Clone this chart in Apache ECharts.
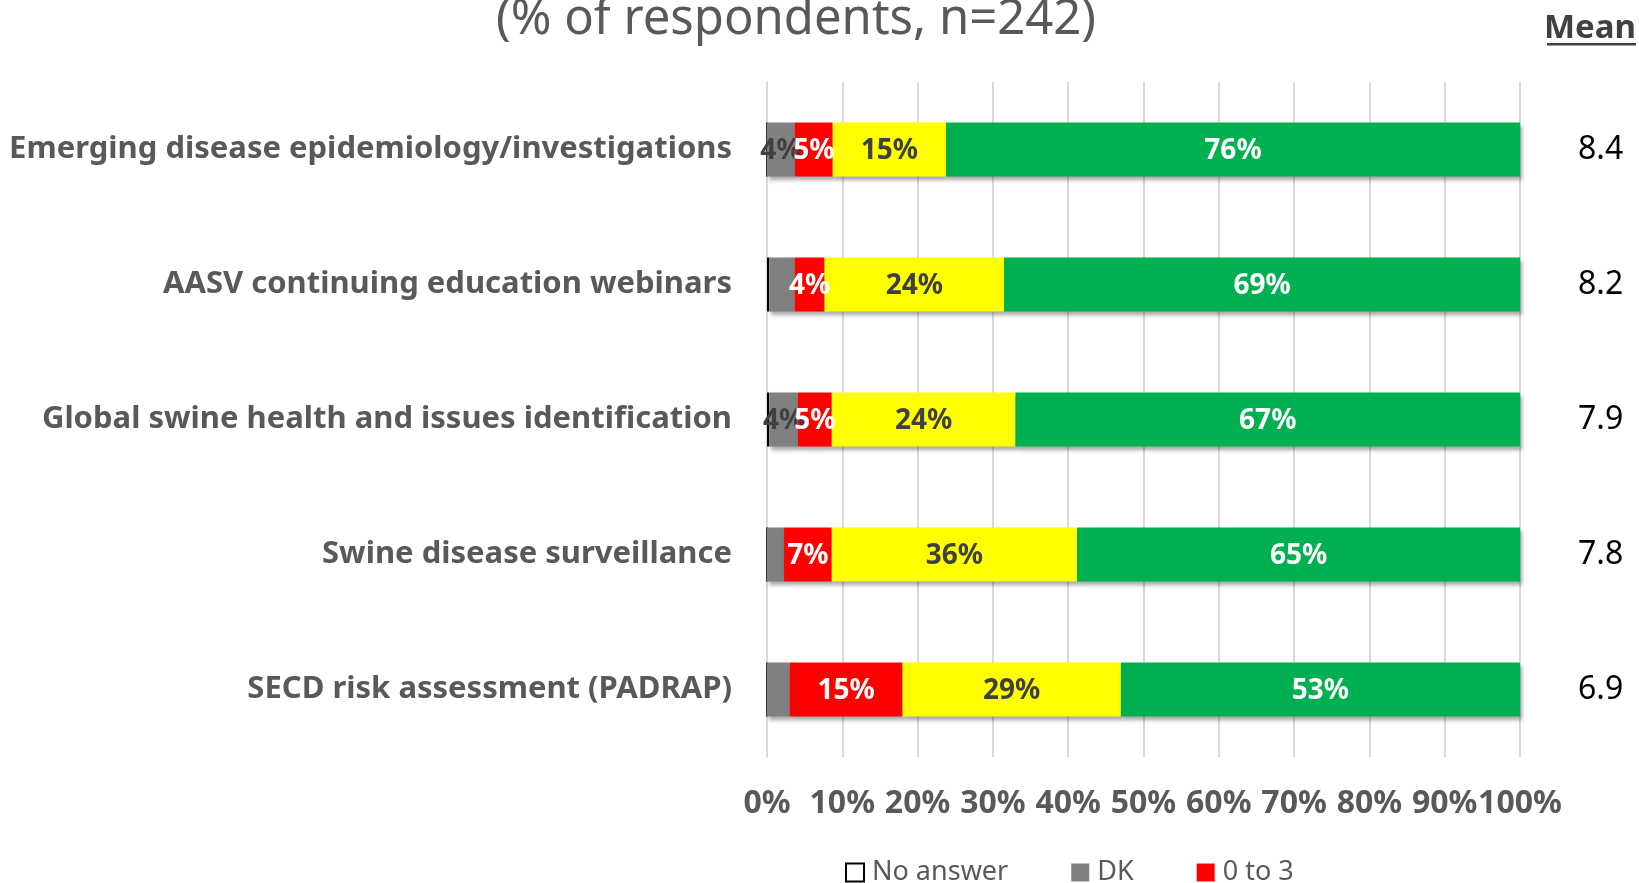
<!DOCTYPE html>
<html>
<head>
<meta charset="utf-8">
<script src="https://cdn.jsdelivr.net/npm/echarts@6/dist/echarts.min.js"></script>
<style>
  html, body { margin: 0; padding: 0; background: #fff; }
  #chart { width: 1639px; height: 883px; }
</style>
</head>
<body>
<div id="chart"></div>
<script>
  // categories, top to bottom
  var categories = [
    'Emerging disease epidemiology/investigations',
    'AASV continuing education webinars',
    'Global swine health and issues identification',
    'Swine disease surveillance',
    'SECD risk assessment (PADRAP)'
  ];
  // raw answer shares (% of respondents), bars are drawn as 100% stacked
  var noAnswer = [0, 0.3, 0.3, 0, 0];
  var dk = [3.7, 3.4, 3.8, 2.5, 3];
  var low = [5, 4, 4.5, 7, 15];
  var mid = [15, 24, 24.4, 36, 29];
  var high = [76, 69, 67, 65, 53];
  var means = ['8.4', '8.2', '7.9', '7.8', '6.9'];
  var xTicks = [0, 10, 20, 30, 40, 50, 60, 70, 80, 90, 100];

  var font = '"Noto Sans", "Open Sans", sans-serif';

  // 100% stacked: turn raw values into shares of the row total
  var totals = categories.map(function (c, i) {
    return noAnswer[i] + dk[i] + low[i] + mid[i] + high[i];
  });
  function toShare(arr) {
    return arr.map(function (v, i) {
      return { value: v / totals[i] * 100, raw: v };
    });
  }

  function seg(name, arr, color, labelColor, minShow) {
    return {
      name: name,
      type: 'bar',
      stack: 'all',
      barWidth: 54,
      data: toShare(arr),
      itemStyle: {
        color: color,
        shadowColor: 'rgba(0,0,0,0.35)',
        shadowBlur: 4,
        shadowOffsetX: 2,
        shadowOffsetY: 3
      },
      label: {
        show: labelColor != null,
        position: 'inside',
        offset: [0, 2],
        color: labelColor,
        fontFamily: font,
        fontWeight: 'bold',
        fontSize: 28,
        formatter: function (p) {
          return p.data.raw >= minShow ? Math.round(p.data.raw) + '%' : '';
        }
      }
    };
  }

  var myChart = echarts.init(document.getElementById('chart'));

  var naSeries = seg('No answer', noAnswer, '#ffffff', null, 0);
  naSeries.itemStyle.borderColor = '#000000';
  naSeries.itemStyle.borderWidth = 1.5;
  naSeries.itemStyle.shadowBlur = 0;
  naSeries.itemStyle.shadowOffsetX = 0;
  naSeries.itemStyle.shadowOffsetY = 0;

  myChart.setOption({
    animation: false,
    title: {
      text: '(% of respondents, n=242)',
      left: 491,
      top: -9,
      textStyle: { fontFamily: font, fontWeight: 'normal', fontSize: 49, color: '#595959' }
    },
    graphic: [
      {
        type: 'text',
        right: 3,
        top: 12,
        style: { text: 'Mean', fontFamily: font, fontWeight: 'bold', fontSize: 33, fill: '#404040' }
      },
      {
        type: 'rect',
        right: 3,
        top: 43,
        shape: { width: 89, height: 2.5 },
        style: { fill: '#404040' }
      }
    ],
    legend: {
      data: ['No answer', 'DK', '0 to 3'],
      left: 845,
      top: 859,
      padding: 0,
      icon: 'rect',
      itemWidth: 18,
      itemHeight: 18,
      itemGap: 63,
      textStyle: { fontFamily: font, fontSize: 27, color: '#595959', padding: [0, 0, 0, 3] }
    },
    grid: { left: 767, width: 753, top: 82, height: 675 },
    xAxis: {
      type: 'value',
      min: 0,
      max: 100,
      interval: 10,
      axisLine: { show: false },
      axisTick: { show: false },
      splitLine: { lineStyle: { color: '#d9d9d9', width: 2 } },
      axisLabel: {
        margin: 31,
        color: '#595959',
        fontFamily: font,
        fontWeight: 'bold',
        fontSize: 32,
        formatter: function (v) { return xTicks.indexOf(v) >= 0 ? v + '%' : ''; }
      }
    },
    yAxis: [
      {
        type: 'category',
        inverse: true,
        data: categories,
        axisLine: { show: true, lineStyle: { color: '#d9d9d9', width: 2 } },
        axisTick: { show: false },
        axisLabel: {
          margin: 35,
          color: '#595959',
          fontFamily: font,
          fontWeight: 'bold',
          fontSize: 31
        }
      },
      {
        type: 'category',
        inverse: true,
        position: 'right',
        data: categories,
        axisLine: { show: false },
        axisTick: { show: false },
        axisLabel: {
          margin: 58,
          color: '#000000',
          fontFamily: font,
          fontSize: 32,
          formatter: function (v, i) { return means[i]; }
        }
      }
    ],
    series: [
      naSeries,
      seg('DK', dk, '#808080', '#404040', 3.5),
      seg('0 to 3', low, '#ff0000', '#ffffff', 0),
      seg('4 to 6', mid, '#ffff00', '#404040', 0),
      seg('7 to 10', high, '#00b050', '#ffffff', 0)
    ]
  });
  window.onresize = () => myChart.resize()
</script>
</body>
</html>
